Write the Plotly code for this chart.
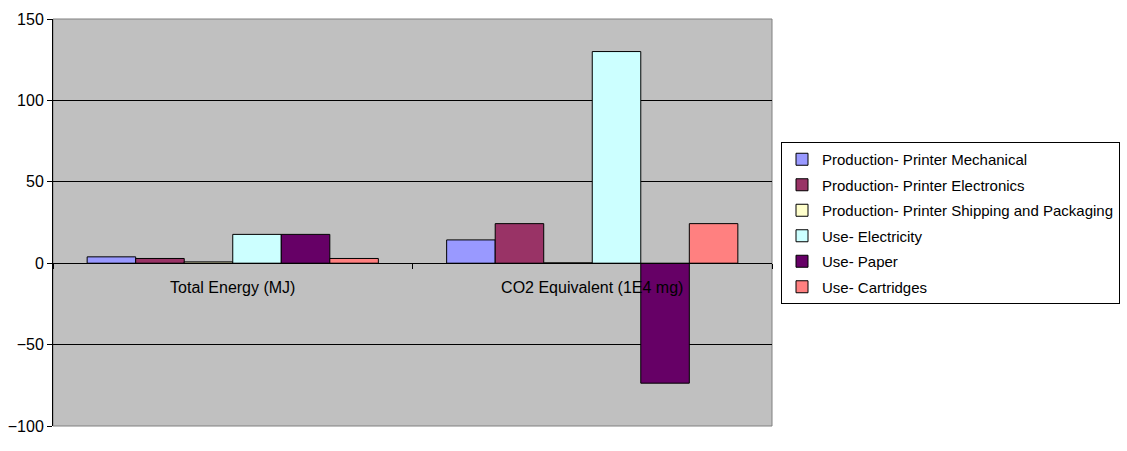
import plotly.graph_objects as go

categories = ["Total Energy (MJ)", "CO2 Equivalent (1E4 mg)"]
series_names = [
    "Production- Printer Mechanical",
    "Production- Printer Electronics",
    "Production- Printer Shipping and Packaging",
    "Use- Electricity",
    "Use- Paper",
    "Use- Cartridges",
]
mechanical = [3.9, 14.3]
electronics = [2.9, 24.3]
shipping = [0.8, 0.2]
electricity = [17.7, 130.0]
paper = [17.7, -73.7]
cartridges = [2.9, 24.3]
series_values = [mechanical, electronics, shipping, electricity, paper, cartridges]
colors = ["#9999FF", "#993366", "#FFFFCC", "#CCFFFF", "#660066", "#FF8080"]
y_ticks = [-100, -50, 0, 50, 100, 150]

FONT = "Arial, Liberation Sans, sans-serif"
W, H = 1127, 451

fig = go.Figure()
for name, vals, col in zip(series_names, series_values, colors):
    fig.add_trace(go.Bar(
        x=categories, y=vals, name=name, legendgroup=name,
        marker=dict(color=col, line=dict(color="black", width=1)),
    ))

ymin, ymax = -100, 150
zero_pos = (0 - ymin) / (ymax - ymin)

fig.update_layout(
    width=W, height=H,
    margin=dict(l=53, r=355, t=19, b=25),
    paper_bgcolor="white", plot_bgcolor="#C0C0C0",
    barmode="group", bargap=0.19, bargroupgap=0,
    font=dict(family=FONT, size=16, color="black"),
    showlegend=True,
    legend=dict(
        x=781 / W, y=1 - 142 / H, xref="container", yref="container",
        xanchor="left", yanchor="top",
        bgcolor="white", bordercolor="black", borderwidth=1,
        font=dict(family=FONT, size=15, color="black"),
        tracegroupgap=3, itemwidth=30,
    ),
    xaxis=dict(
        anchor="free", position=zero_pos, automargin=False,
        showline=True, linecolor="black", linewidth=1,
        ticks="outside", tickson="boundaries", ticklen=5, tickcolor="black",
        showgrid=False, ticklabelstandoff=10,
        tickfont=dict(family=FONT, size=16, color="black"),
    ),
    yaxis=dict(
        range=[ymin, ymax], tickvals=y_ticks, automargin=False,
        showline=True, linecolor="black", linewidth=1,
        ticks="outside", ticklen=5, tickcolor="black",
        showgrid=True, gridcolor="black", gridwidth=1,
        zeroline=False,
        tickfont=dict(family=FONT, size=16, color="black"),
    ),
    shapes=[dict(type="rect", xref="paper", yref="paper", x0=0, x1=1, y0=0, y1=1,
                 line=dict(color="#808080", width=1), layer="below")],
)

fig.write_html("out.html")
